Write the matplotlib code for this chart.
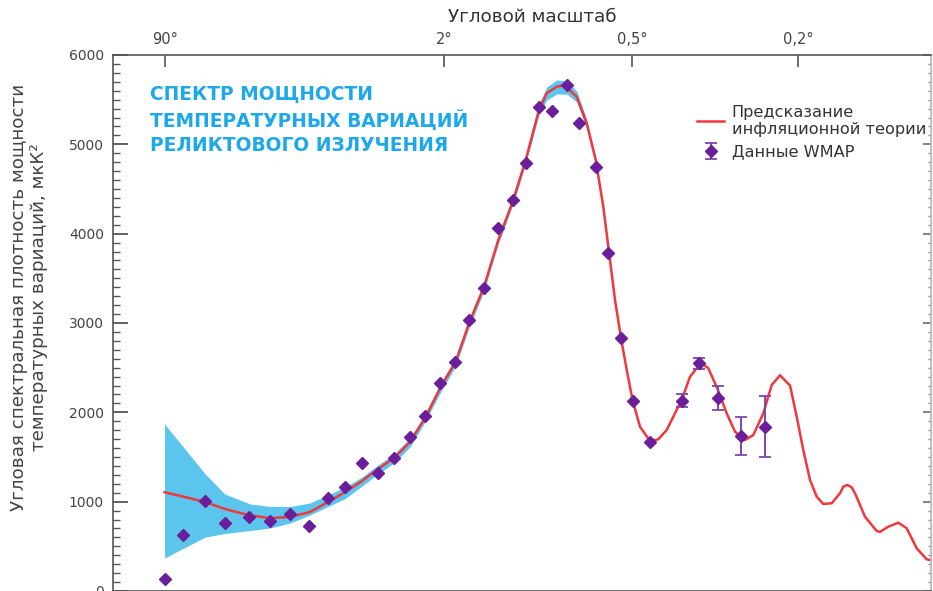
import numpy as np
import matplotlib
matplotlib.use('Agg')
import matplotlib.pyplot as plt
from matplotlib.ticker import MultipleLocator, NullLocator

# ---------------- data (multipole l, power in мкК²) ----------------
theory_l = [2.0, 3.1, 4.6, 6.5, 9.8, 13.1, 17.3, 22.3, 27.8, 33.8, 40.7, 48.1,
            56.6, 66.0, 76.0, 87.0, 99.7, 111.6, 126.2, 141.4, 158.8, 174.4,
            192.3, 203.3, 218.3, 226.0, 234.1, 250.7, 268.2, 284.8, 299.3, 309.2,
            322.8, 335.3, 347.6, 360.8, 377.5, 401.2, 421.7, 443.3, 465.4,
            485.6, 507.5, 535.0, 546.2, 562.6, 593.5, 622.4, 650.9, 686.5,
            717.1, 755.4, 788.7, 822.7, 865.1, 894.4, 924.0, 954.8, 986.3,
            1018.1, 1059.8, 1102.1, 1119.3, 1140.4, 1164.0, 1181.9, 1237.4,
            1304.9, 1324.4, 1374.4, 1436.6, 1490.4, 1556.4, 1624.6, 1668.7]
theory_cl = [1105, 1052, 996, 918, 845, 817, 828, 884, 996, 1108, 1231, 1366,
             1489, 1668, 1937, 2269, 2567, 2997, 3406, 3929, 4377, 4825,
             5384, 5571, 5645, 5656, 5638, 5533, 5235, 4825, 4302, 3854,
             3257, 2834, 2474, 2130, 1839, 1679, 1698, 1802, 1989,
             2157, 2399, 2530, 2540, 2493, 2250, 1989, 1783, 1690,
             1746, 1989, 2306, 2415, 2300, 1951, 1578, 1243, 1056,
             974, 982, 1094, 1168, 1187, 1161, 1094, 832,
             672, 662, 720, 765, 702, 478, 355, 339]

band_l = [2.0, 3.1, 4.6, 6.5, 9.8, 13.1, 17.3, 22.3, 27.8, 33.8, 40.7, 48.1,
          56.6, 66.0, 76.0, 87.0, 99.7, 111.6, 126.2, 141.4, 158.8, 174.4,
          192.3, 203.3, 218.3, 234.1, 250.7, 268.2, 284.8]
band_hi = [1869, 1590, 1310, 1086, 974, 946, 946, 985, 1075, 1164, 1276, 1410,
           1534, 1713, 1981, 2317, 2619, 3045, 3448, 3974, 4422, 4881,
           5451, 5642, 5720, 5709, 5597, 5284, 4858]
band_lo = [369, 487, 604, 644, 677, 705, 761, 851, 946, 1035, 1175, 1310,
           1433, 1612, 1892, 2216, 2519, 2944, 3358, 3884, 4332, 4780,
           5328, 5496, 5563, 5563, 5474, 5183, 4791]

wmap_l = [2.0, 3.0, 4.6, 6.5, 9.6, 13.2, 17.3, 22.1, 27.7, 33.9,
          40.8, 48.3, 56.7, 66.0, 76.2, 87.0, 99.4, 111.8, 126.2, 141.4,
          158.8, 174.4, 192.3, 211.6, 235.1, 255.2, 284.8, 309.2, 335.3, 360.8,
          401.2, 485.6, 535.0, 593.5, 671.0, 762.0]
wmap_cl = [131, 627, 1011, 765, 832, 787, 862, 728, 1044, 1168,
           1436, 1324, 1485, 1727, 1959, 2328, 2563, 3034, 3388, 4067,
           4377, 4788, 5415, 5373, 5664, 5235, 4743, 3787, 2834, 2130,
           1671, 2130, 2549, 2164, 1735, 1839]
wmap_err = [0] * 31 + [73, 62, 134, 213, 344]

angle_deg = [90, 2, 0.5, 0.2]
angle_labels = ['90°', '2°', '0,5°', '0,2°']

title_text = 'СПЕКТР МОЩНОСТИ\nТЕМПЕРАТУРНЫХ ВАРИАЦИЙ\nРЕЛИКТОВОГО ИЗЛУЧЕНИЯ'
ylabel_text = 'Угловая спектральная плотность мощности\nтемпературных вариаций, мкК²'
xlabel_text = 'Угловой масштаб'
legend_labels = ['Предсказание\nинфляционной теории', 'Данные WMAP']

# ---------------- styling ----------------
RED = '#F0383C'
BAND = '#5CC5EE'
PURPLE = '#6A1E9A'
ERRC = '#7E45AD'
CYAN = '#1DA8EA'
GREY = '#444444'
SPINE = '#555555'

plt.rcParams['font.family'] = ['DejaVu Sans']

fig = plt.figure(figsize=(9.33, 5.91), dpi=100)
W, H = 933, 591
ax = fig.add_axes([113 / W, 0.0, 818 / W, 536 / H])


def fwd(x):
    return np.power(np.abs(x), 0.25)


def inv(u):
    return np.power(u, 4)


ax.set_xscale('function', functions=(fwd, inv))
ax.set_xlim(0.498, 1654.6)
ax.set_ylim(0, 6000)

ax.fill_between(band_l, band_lo, band_hi, color=BAND, lw=0, zorder=1)
line, = ax.plot(theory_l, theory_cl, color=RED, lw=1.8, zorder=2,
                solid_joinstyle='round')

l_arr = np.array(wmap_l)
c_arr = np.array(wmap_cl)
e_arr = np.array(wmap_err)
m = e_arr > 0
ax.plot(l_arr[~m], c_arr[~m], 'D', ms=6, color=PURPLE, zorder=4)
eb = ax.errorbar(l_arr[m], c_arr[m], yerr=e_arr[m], fmt='D', ms=6,
                 color=PURPLE, ecolor=ERRC, elinewidth=1.4, capsize=4,
                 capthick=1.3, zorder=4)

# top axis: angular scale
ax.xaxis.tick_top()
ax.set_xticks([180.0 / a for a in angle_deg])
ax.set_xticklabels(angle_labels)
ax.xaxis.set_minor_locator(NullLocator())
ax.tick_params(axis='x', which='major', direction='in', length=8.5, width=1.2,
               color=SPINE, labelcolor=GREY, labelsize=10.5, pad=5.5)

ax.yaxis.set_major_locator(MultipleLocator(1000))
ax.yaxis.set_minor_locator(MultipleLocator(100))
ax.tick_params(axis='y', which='major', direction='in', length=11, width=1.3,
               color=SPINE, labelcolor=GREY, labelsize=10, pad=6.5)
ax.tick_params(axis='y', which='minor', direction='in', length=5, width=1.0,
               color=SPINE)

sec = ax.secondary_yaxis('right')
sec.yaxis.set_major_locator(MultipleLocator(1000))
sec.yaxis.set_minor_locator(MultipleLocator(100))
sec.tick_params(axis='y', which='major', direction='in', length=6, width=1.3,
                color='#777777', labelright=False)
sec.tick_params(axis='y', which='minor', direction='in', length=2, width=1.0,
                color='#888888')
sec.spines['right'].set_color('#bbbbbb')

for s in ['top', 'left', 'bottom', 'right']:
    ax.spines[s].set_color(SPINE)
    ax.spines[s].set_linewidth(1.2)
ax.spines['right'].set_color('#bbbbbb')

# texts
fig.text(532 / W, 1 - 17 / H, xlabel_text, ha='center', va='center',
         fontsize=13.2, color='#333333')
fig.text(29 / W, 1 - 297 / H, ylabel_text, rotation=90, ha='center',
         va='center', fontsize=13.2, color=GREY, linespacing=1.1)
fig.text(150 / W, 1 - 85 / H, title_text, ha='left', va='top',
         fontsize=13.4, fontweight='bold', color=CYAN, linespacing=1.35)

leg = ax.legend([line, eb], legend_labels, loc='upper left',
                bbox_to_anchor=(0.714, 0.907), frameon=False, fontsize=11.6,
                handlelength=1.7, handletextpad=0.45, borderpad=0,
                borderaxespad=0, labelspacing=0.45)
for t in leg.get_texts():
    t.set_color('#333333')

fig.savefig('out.png', dpi=100)
